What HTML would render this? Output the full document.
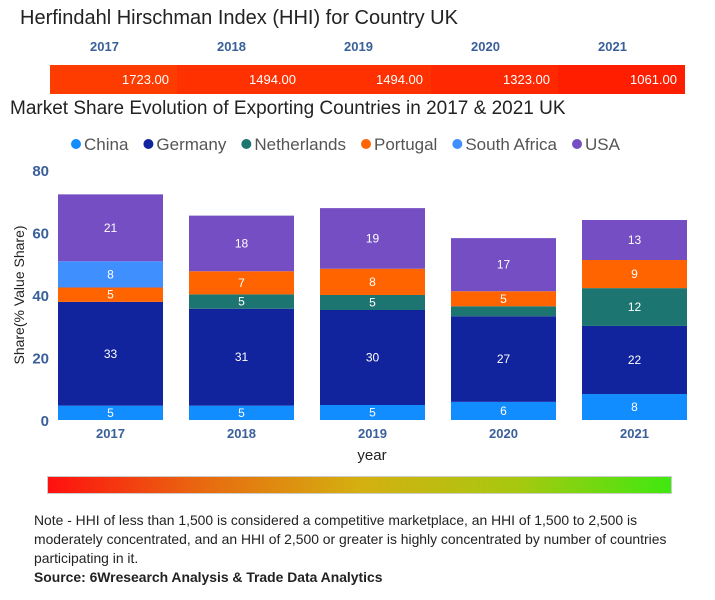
<!DOCTYPE html>
<html><head><meta charset="utf-8"><style>
body{margin:0;width:715px;height:600px;background:#fff;font-family:"Liberation Sans",sans-serif;overflow:hidden;position:relative}
.a{position:absolute;white-space:nowrap}
</style></head><body>
<div class="a" style="left:20px;top:7px;font-size:20px;color:#222">Herfindahl Hirschman Index (HHI) for Country UK</div>
<div id="hhi"></div>
<div class="a" style="left:10px;top:98px;font-size:19px;color:#222">Market Share Evolution of Exporting Countries in 2017 &amp; 2021 UK</div>
<svg id="chart" class="a" style="left:0;top:125px" width="715" height="345"></svg>
<div class="a" style="left:47px;top:476px;width:625px;height:18px;background:linear-gradient(to right,#ff1010,#e86a10,#d4b010,#a8c810,#40e810);border:1px solid #ccc;box-sizing:border-box"></div>
<div class="a" style="left:34px;top:511px;font-size:13.9px;line-height:19px;color:#222;white-space:normal;width:655px">Note - HHI of less than 1,500 is considered a competitive marketplace, an HHI of 1,500 to 2,500 is moderately concentrated, and an HHI of 2,500 or greater is highly concentrated by number of countries participating in it.<br><b>Source: 6Wresearch Analysis &amp; Trade Data Analytics</b></div>
<script>
const years=["2017","2018","2019","2020","2021"];
const hhiValues=[1723,1494,1494,1323,1061];
const series=["China","Germany","Netherlands","Portugal","South Africa","USA"];
const colors=["#118DFF","#12239E","#1D7571","#FF6400","#3F8FFF","#744EC2"];
const china=[4.6,4.6,4.8,5.8,8.3];
const germany=[33.2,31.0,30.4,27.4,21.8];
const netherlands=[0,4.6,4.8,3.2,12.1];
const portugal=[4.6,7.4,8.4,4.8,9.0];
const southAfrica=[8.4,0,0,0,0];
const usa=[21.4,17.8,19.4,17.0,12.8];
const yTicks=[0,20,40,60,80];
const values=[china,germany,netherlands,portugal,southAfrica,usa];

const hhi=document.getElementById('hhi');
const hx0=50,hw=127;
years.forEach((y,i)=>{
  const l=document.createElement('div');l.className='a';
  
  
  l.style.cssText=`left:${hx0+i*hw+40}px;top:39px;font-size:13px;font-weight:bold;color:#3a5f9a`;
  l.textContent=y;hhi.appendChild(l);
  const c=document.createElement('div');c.className='a';
  
  
  const g=Math.round(60-(1723-hhiValues[i])/20);
  c.style.cssText=`left:${hx0+i*hw}px;top:65px;width:${hw}px;height:29px;background:rgb(255,${Math.max(g,30)},0);color:#fff;font-size:13px;line-height:29px;text-align:right;box-sizing:border-box;padding-right:8px`;
  c.textContent=hhiValues[i].toFixed(2);hhi.appendChild(c);
});

const NS='http://www.w3.org/2000/svg';
const svg=document.getElementById('chart');
function el(t,a,txt){const e=document.createElementNS(NS,t);for(const k in a)e.setAttribute(k,a[k]);if(txt!==undefined)e.textContent=txt;svg.appendChild(e);return e;}
const top0=125,y0=420-top0,pxu=250/80;
const yS=v=>y0-v*pxu;
const xS=i=>58+i*131;
const bw=105;
let lx=70;
series.forEach((s,i)=>{
  const c=el('circle',{cx:lx+6,cy:19,r:5,fill:colors[i]});
  
  
  const t=el('text',{x:lx+14,y:25,'font-size':17,fill:'#555'},s);
  
  
  lx+=14+t.getComputedTextLength()+14;
});
yTicks.forEach(v=>{
  const t=el('text',{x:49,y:yS(v)+6,'text-anchor':'end','font-size':15,'font-weight':'bold',fill:'#3a5f9a'},v);
  
  
});
const yt=el('text',{x:0,y:0,transform:`translate(24,${yS(40)}) rotate(-90)`,'text-anchor':'middle','font-size':14,fill:'#222'},'Share(% Value Share)');


years.forEach((y,i)=>{
  let base=0;
  values.forEach((arr,s)=>{
    const v=arr[i];if(!v)return;
    const r=el('rect',{x:xS(i),y:yS(base+v),width:bw,height:v*pxu,fill:colors[s]});
    
    
    if(v>=4){
      const t=el('text',{x:xS(i)+bw/2,y:yS(base+v/2)+4,'text-anchor':'middle','font-size':12,fill:'#fff'},Math.round(v));
      
      
    }
    base+=v;
  });
  const t=el('text',{x:xS(i)+bw/2,y:433-top0+5,'text-anchor':'middle','font-size':13,'font-weight':'bold',fill:'#3a5f9a'},y);
  
  
});
const xt=el('text',{x:372,y:460-top0,'text-anchor':'middle','font-size':15,fill:'#222'},'year');


</script>
</body></html>
